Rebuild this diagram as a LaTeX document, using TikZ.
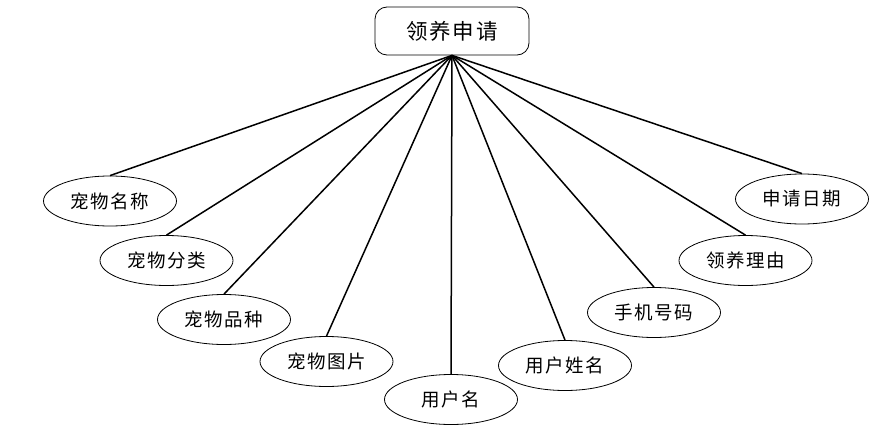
\documentclass[tikz,border=0pt]{standalone}
\usepackage{fontspec}
\newfontfamily\cjk[LetterSpace=8]{Noto Sans CJK SC}
\usetikzlibrary{shapes.geometric}
\begin{document}
\begin{tikzpicture}[x=1pt,y=-1pt,
  attr/.style={draw, ellipse, line width=0.8pt, minimum width=133pt, minimum height=50pt, inner sep=0pt, font=\cjk\fontsize{18.5}{18.5}\selectfont},
  ent/.style={draw, rounded corners=12pt, line width=0.8pt, minimum width=154pt, minimum height=48pt, inner sep=0pt, font=\cjk\fontsize{21.5}{21.5}\selectfont},
  link/.style={line width=1.5pt}]
\useasboundingbox (0,0) rectangle (876,436);
\node[ent] (root) at (452,31) {领养申请};
\node[attr] (a1) at (110,201) {宠物名称};
\node[attr] (a2) at (166.5,260.5) {宠物分类};
\node[attr] (a3) at (224,319.5) {宠物品种};
\node[attr] (a4) at (326.5,361.5) {宠物图片};
\node[attr] (a5) at (451,399.5) {用户名};
\node[attr] (a6) at (565,365.5) {用户姓名};
\node[attr] (a7) at (654,312.5) {手机号码};
\node[attr] (a8) at (745.5,260.5) {领养理由};
\node[attr] (a9) at (802,199) {申请日期};
\foreach \n in {a1,a2,a3,a4,a5,a6,a7,a8,a9}
  \draw[link] (root.south) -- (\n.north);
\end{tikzpicture}
\end{document}
